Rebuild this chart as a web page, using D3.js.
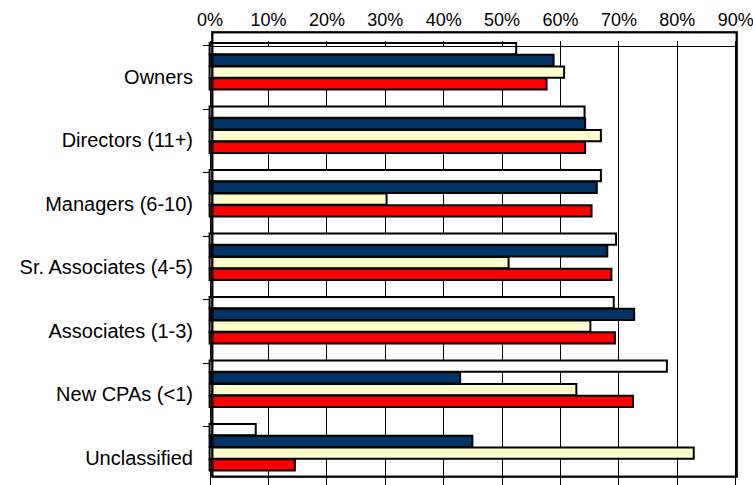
<!DOCTYPE html>
<html>
<head>
<meta charset="utf-8">
<script src="https://cdn.jsdelivr.net/npm/d3@7"></script>
<style>
  html, body { margin: 0; padding: 0; background: #ffffff; }
  svg { display: block; }
  text { font-family: "Liberation Sans", Arial, sans-serif; fill: #000; }
</style>
</head>
<body>
<svg id="chart" width="753" height="485"></svg>
<script>
// ---- data ----
const categories = ["Owners", "Directors (11+)", "Managers (6-10)", "Sr. Associates (4-5)", "Associates (1-3)", "New CPAs (<1)", "Unclassified"];
const seriesKeys = ["series1", "series2", "series3", "series4"];
const series1 = [52.5, 64.2, 67.0, 69.6, 69.2, 78.3, 7.9];   // white
const series2 = [58.9, 64.3, 66.3, 68.1, 72.7, 42.9, 45.0];  // navy
const series3 = [60.7, 67.0, 30.3, 51.2, 65.2, 62.8, 82.9];  // light yellow
const series4 = [57.7, 64.3, 65.4, 68.8, 69.4, 72.5, 14.6];  // red
const xTickValues = [0, 10, 20, 30, 40, 50, 60, 70, 80, 90];
const seriesColors = ["#FFFFFF", "#003366", "#FFFFCC", "#FF0000"];

const seriesValues = [series1, series2, series3, series4];
const rows = categories.map((c, i) => ({
  category: c,
  values: seriesKeys.map((k, j) => ({ key: k, value: seriesValues[j][i], color: seriesColors[j] }))
}));

// ---- layout ----
const svg = d3.select("#chart");
const x0 = 209.6, x1 = 735.2;
const bandTop = 45, step = 63.5;

const x = d3.scaleLinear().domain([0, 90]).range([x0, x1]);
const y = d3.scaleBand().domain(categories).range([bandTop, bandTop + step * categories.length]).padding(0);
const groupH = 47;
const inner = d3.scaleBand().domain(seriesKeys).range([-3, -3 + groupH]).padding(0);

const gridBottom = 485;

// gridlines
svg.append("g")
  .selectAll("line")
  .data(xTickValues.slice(1))
  .join("line")
  .attr("x1", d => Math.round(x(d)) + 0.5)
  .attr("x2", d => Math.round(x(d)) + 0.5)
  .attr("y1", bandTop)
  .attr("y2", gridBottom)
  .attr("stroke", "#000")
  .attr("stroke-width", 1)
  .attr("shape-rendering", "crispEdges");

// category axis line (vertical) and ticks
svg.append("line")
  .attr("x1", 210.5).attr("x2", 210.5)
  .attr("y1", bandTop).attr("y2", gridBottom)
  .attr("stroke", "#000").attr("stroke-width", 1)
  .attr("shape-rendering", "crispEdges");

svg.append("g")
  .selectAll("line")
  .data(categories)
  .join("line")
  .attr("x1", 202.5)
  .attr("x2", 210.5)
  .attr("y1", d => Math.round(y(d)) + 0.5)
  .attr("y2", d => Math.round(y(d)) + 0.5)
  .attr("stroke", "#000").attr("stroke-width", 1)
  .attr("shape-rendering", "crispEdges");

// bars
const groups = svg.append("g")
  .selectAll("g")
  .data(rows)
  .join("g")
  .attr("transform", d => `translate(0,${y(d.category)})`);

groups.selectAll("rect")
  .data(d => d.values)
  .join("rect")
  .attr("x", x(0))
  .attr("y", d => inner(d.key) + 1)
  .attr("width", d => x(d.value) - x(0))
  .attr("height", inner.bandwidth() - 0.5)
  .attr("fill", d => d.color)
  .attr("stroke", "#000")
  .attr("stroke-width", 2);

// top value axis
const xAxis = d3.axisTop(x)
  .tickValues(xTickValues)
  .tickFormat(d => d + "%")
  .tickSizeInner(5)
  .tickSizeOuter(0)
  .tickPadding(15);

const ax = svg.append("g")
  .attr("transform", `translate(0,${bandTop + 0.5})`)
  .call(xAxis);
ax.select(".domain").attr("stroke", "#000").attr("shape-rendering", "crispEdges");
ax.selectAll(".tick line").attr("stroke", "#000").attr("shape-rendering", "crispEdges");
ax.selectAll(".tick text")
  .attr("font-size", 18)
  .attr("font-family", "Liberation Sans, Arial, sans-serif")
  .attr("fill", "#000");

// category labels
svg.append("g")
  .selectAll("text")
  .data(categories)
  .join("text")
  .attr("x", 193)
  .attr("y", d => y(d) + y.bandwidth() / 2)
  .attr("dy", "0.35em")
  .attr("text-anchor", "end")
  .attr("font-size", 20)
  .text(d => d);

// plot area border
svg.append("rect")
  .attr("x", 212.3)
  .attr("y", 32.3)
  .attr("width", 524.4)
  .attr("height", 444.4)
  .attr("fill", "none")
  .attr("stroke", "#000")
  .attr("stroke-width", 2.3);
</script>
</body>
</html>
